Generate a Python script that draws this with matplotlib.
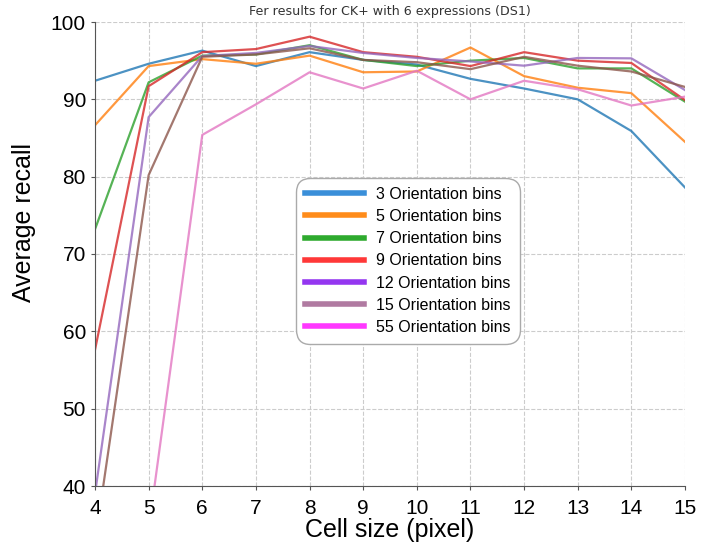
from matplotlib import pyplot as plt
from matplotlib.lines import Line2D
import numpy as np

cell = np.arange(4, 16)

bins3 = [92.4, 94.6, 96.3, 94.3, 96.1, 95.1, 94.5, 92.65, 91.4, 90.0, 85.9, 78.6]
bins5 = [86.65, 94.3, 95.2, 94.6, 95.65, 93.5, 93.6, 96.7, 93.0, 91.5, 90.8, 84.5]
bins7 = [73.2, 92.2, 95.65, 95.8, 97.0, 95.1, 94.3, 95.0, 95.35, 94.0, 94.0, 89.7]
bins9 = [57.6, 91.7, 96.1, 96.5, 98.1, 96.1, 95.5, 94.3, 96.1, 95.0, 94.7, 89.9]
bins12 = [39.0, 87.7, 95.6, 96.0, 96.9, 96.0, 95.35, 94.9, 94.35, 95.35, 95.3, 91.2]
bins15 = [32.7, 80.2, 95.5, 95.8, 96.6, 95.1, 94.8, 93.9, 95.5, 94.35, 93.6, 91.6]
bins55 = [28.0, 34.4, 85.4, 89.35, 93.5, 91.4, 93.7, 90.0, 92.4, 91.3, 89.2, 90.35]

series = [bins3, bins5, bins7, bins9, bins12, bins15, bins55]
labels = ['3 Orientation bins', '5 Orientation bins', '7 Orientation bins',
          '9 Orientation bins', '12 Orientation bins', '15 Orientation bins',
          '55 Orientation bins']
line_colors = ['#1f77b4', '#ff7f0e', '#2ca02c', '#d62728', '#9467bd', '#8c564b', '#e377c2']
legend_colors = ['#3a8fd9', '#ff8c1a', '#2eaa2e', '#ff3838', '#9436f0', '#b07aa1', '#ff38ff']

fig = plt.figure(figsize=(7.01, 5.52), dpi=100)
ax = fig.add_axes([95/701, 1-486/552, 590/701, 464/552])

for vals, c in zip(series, line_colors):
    ax.plot(cell, vals, color=c, lw=1.6, alpha=0.8)

ax.set_xlim(4, 15)
ax.set_ylim(40, 100)
ax.set_xticks(cell)
ax.set_yticks(np.arange(40, 101, 10))
ax.grid(True, ls='--', color='#cccccc', lw=0.8)
ax.spines['top'].set_visible(False)
ax.spines['right'].set_visible(False)
ax.spines['left'].set_color('#555555')
ax.spines['bottom'].set_color('#555555')
ax.tick_params(labelsize=15, length=3, color='#555555')
ax.tick_params(axis='x', pad=6)
for t in ax.get_xticklabels() + ax.get_yticklabels():
    t.set_family('Liberation Sans')

ax.set_title('Fer results for CK+ with 6 expressions (DS1)', fontsize=9.1, color='#333333', pad=5)
ax.set_xlabel('Cell size (pixel)', fontsize=18, family='Liberation Sans', labelpad=0)
ax.set_ylabel('Average recall', fontsize=18, family='Liberation Sans')
ax.yaxis.set_label_coords(-0.1, 0.567)

handles = [Line2D([0], [0], color=c, lw=4) for c in legend_colors]
leg = ax.legend(handles, labels, loc='center', bbox_to_anchor=(0.53, 0.485),
                prop={'family': 'Liberation Sans', 'size': 11.5}, fancybox=True,
                handlelength=3.7, labelspacing=0.45, borderpad=0.55, framealpha=1,
                edgecolor='#aaaaaa')
leg.get_frame().set_boxstyle('round', pad=0, rounding_size=0.9)

plt.savefig('out.png')
